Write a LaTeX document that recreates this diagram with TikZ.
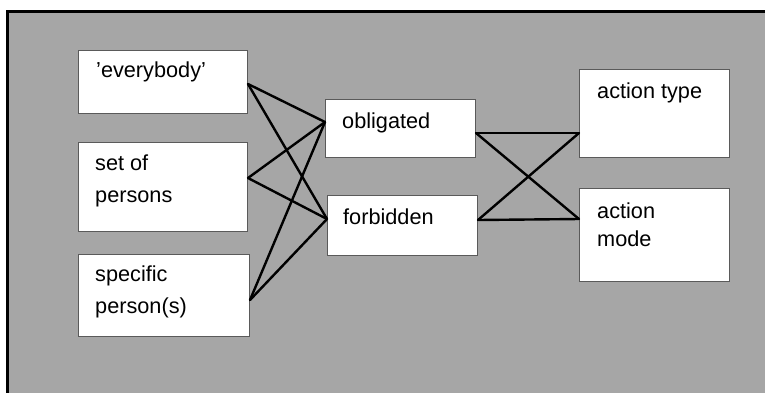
\documentclass[tikz,border=0pt]{standalone}
\usepackage{fontspec}
\setmainfont{Liberation Sans}
\definecolor{bg}{HTML}{A6A6A6}
\definecolor{boxline}{HTML}{5A5A5A}
\begin{document}
\begin{tikzpicture}[x=1pt,y=-1pt,
  box/.style={draw=boxline, line width=1pt, fill=white, anchor=north west, inner sep=0pt},
  lbl/.style={anchor=base west, inner sep=0pt, font=\fontsize{21.7}{29}\selectfont},
  conn/.style={line width=2.4pt, draw=black, line cap=round, line join=round}]
\useasboundingbox (0,0) rectangle (765,392);
\clip (0,0) rectangle (765,392);
\draw[line width=3pt, fill=bg] (7,11.5) rectangle (800,420);

% boxes
\node[box, minimum width=169pt, minimum height=63pt] (ev) at (78,50) {};
\node[box, minimum width=169pt, minimum height=89pt] (set) at (78,142) {};
\node[box, minimum width=171pt, minimum height=82pt] (spec) at (78,254) {};
\node[box, minimum width=150pt, minimum height=58pt] (obl) at (325,99) {};
\node[box, minimum width=150pt, minimum height=60pt] (forb) at (327,195) {};
\node[box, minimum width=150pt, minimum height=88pt] (atype) at (579,69) {};
\node[box, minimum width=150pt, minimum height=93pt] (amode) at (579,188) {};

% labels
\node[lbl] (evT) at (96,77.5) {'everybody'};
\node[lbl] (setT1) at (95,170.5) {set of};
\node[lbl] (setT2) at (95,202) {persons};
\node[lbl] (specT1) at (95,281.5) {specific};
\node[lbl] (specT2) at (95,313) {person(s)};
\node[lbl] (oblT) at (342,128) {obligated};
\node[lbl] (forbT) at (343,224) {forbidden};
\node[lbl] (atypeT) at (597,98) {action type};
\node[lbl] (amodeT1) at (597,218) {action};
\node[lbl] (amodeT2) at (597,246) {mode};

% connector end points
\coordinate (evR) at (ev.east |- 0,84);
\coordinate (setR) at (set.east |- 0,178);
\coordinate (specR) at (spec.east |- 0,300);
\coordinate (oblL) at (obl.west |- 0,122);
\coordinate (oblR) at (obl.east |- 0,133);
\coordinate (forbL) at (forb.west |- 0,219);
\coordinate (forbR) at (forb.east |- 0,220);
\coordinate (atypeL) at (atype.west |- 0,133);
\coordinate (amodeL) at (amode.west |- 0,219);

% connectors
\draw[conn] (evR) -- (oblL);
\draw[conn] (evR) -- (forbL);
\draw[conn] (setR) -- (oblL);
\draw[conn] (setR) -- (forbL);
\draw[conn] (specR) -- (oblL);
\draw[conn] (specR) -- (forbL);
\draw[conn] (oblR) -- (atypeL);
\draw[conn] (oblR) -- (amodeL);
\draw[conn] (forbR) -- (atypeL);
\draw[conn] (forbR) -- (amodeL);
\end{tikzpicture}
\end{document}
